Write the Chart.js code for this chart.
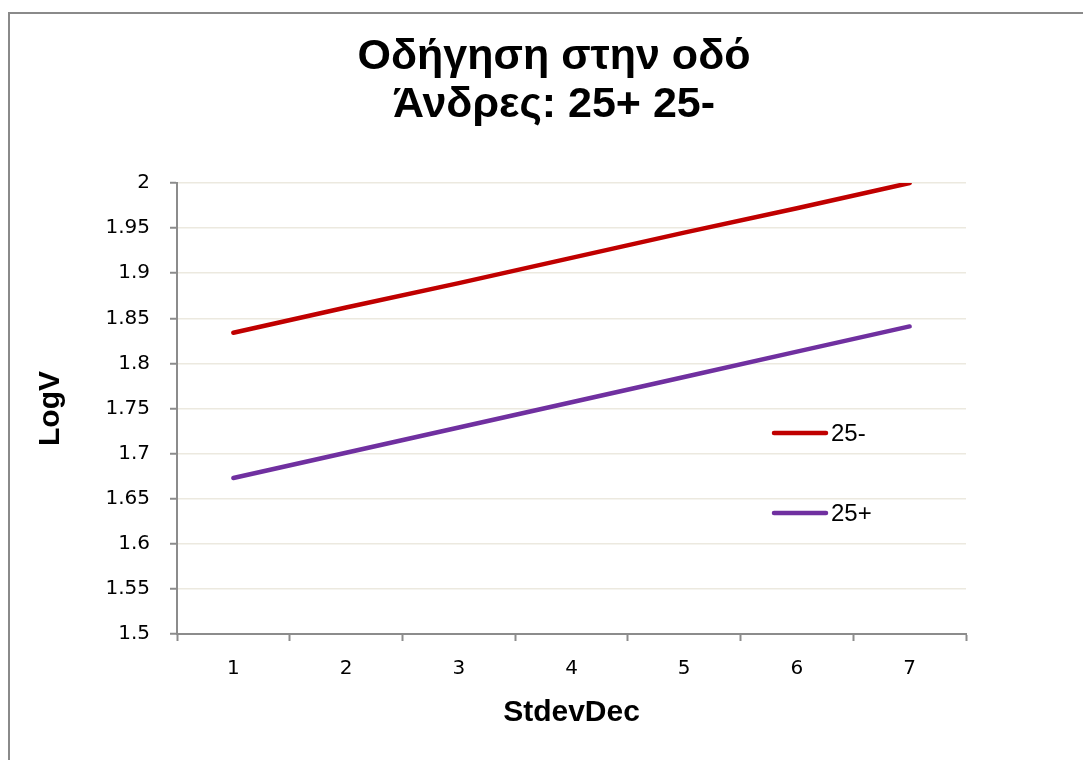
<!DOCTYPE html>
<html>
<head>
<meta charset="utf-8">
<script src="https://cdn.jsdelivr.net/npm/chart.js@4.4.1/dist/chart.umd.min.js"></script>
<style>
  html, body { margin: 0; padding: 0; background: #fff; overflow: hidden; }
  #frame { position: absolute; left: 8px; top: 12px; width: 1100px; height: 800px; border: 2px solid #8a8a8a; box-sizing: border-box; }
  #wrap { position: absolute; left: 0; top: 0; width: 1083px; height: 760px; }
</style>
</head>
<body>
<div id="frame"></div>
<div id="wrap"><canvas id="c" width="1083" height="760"></canvas></div>
<script>
const titleLines = ['Οδήγηση στην οδό', 'Άνδρες: 25+ 25-'];
const categories = ['1', '2', '3', '4', '5', '6', '7'];
const seriesNames = ['25-', '25+'];
const young = [1.834, 1.862, 1.889, 1.917, 1.945, 1.972, 2.0];
const older = [1.673, 1.701, 1.729, 1.757, 1.785, 1.813, 1.841];
const yMin = 1.5, yMax = 2.0, yStep = 0.05;
const xTitle = 'StdevDec';
const yTitle = 'LogV';

const tickFont = { family: '"DejaVu Sans", sans-serif', size: 20 };
const boldFont = (s) => ({ family: '"Liberation Sans", Arial, sans-serif', size: s, weight: 'bold' });

const insideLegend = {
  id: 'insideLegend',
  afterDatasetsDraw(chart) {
    const ctx = chart.ctx;
    const ys = [433, 513];
    ctx.save();
    chart.data.datasets.forEach((ds, i) => {
      ctx.strokeStyle = ds.borderColor;
      ctx.lineWidth = 4.5;
      ctx.lineCap = 'round';
      ctx.beginPath();
      ctx.moveTo(774, ys[i]);
      ctx.lineTo(826, ys[i]);
      ctx.stroke();
      ctx.fillStyle = '#000';
      ctx.font = '24px "Liberation Sans", Arial, sans-serif';
      ctx.textBaseline = 'middle';
      ctx.textAlign = 'left';
      ctx.fillText(ds.label, 831, ys[i] + 1);
    });
    ctx.restore();
  }
};

new Chart(document.getElementById('c'), {
  type: 'line',
  data: {
    labels: categories,
    datasets: [
      { label: seriesNames[0], data: young, borderColor: '#C00000', backgroundColor: '#C00000', borderWidth: 4.5, pointRadius: 0, borderCapStyle: 'round', tension: 0, yAxisID: 'y' },
      { label: seriesNames[1], data: older, borderColor: '#7030A0', backgroundColor: '#7030A0', borderWidth: 4.5, pointRadius: 0, borderCapStyle: 'round', tension: 0, yAxisID: 'y' }
    ]
  },
  options: {
    responsive: false,
    animation: false,
    layout: { padding: { left: 25, right: 0, top: 0, bottom: 0 } },
    plugins: {
      legend: { display: false },
      tooltip: { enabled: false },
      title: {
        display: true,
        text: titleLines,
        color: '#000',
        font: { family: '"Liberation Sans", Arial, sans-serif', size: 43, weight: 'bold', lineHeight: 48/43 },
        padding: { top: 33, bottom: 54 }
      }
    },
    scales: {
      x: {
        type: 'category',
        offset: true,
        grid: { display: true, drawOnChartArea: false, drawTicks: true, offset: true, tickLength: 7, tickColor: '#8c8c8c', tickWidth: 2 },
        border: { display: true, color: '#8c8c8c', width: 2 },
        ticks: { color: '#000', font: tickFont, padding: 16, maxRotation: 0 },
        title: { display: true, text: xTitle, color: '#000', font: boldFont(30), padding: { top: 10, bottom: 29 } },
        afterFit(scale) { scale.height = 126; }
      },
      y: {
        position: 'left',
        min: yMin, max: yMax,
        grid: { color: '#ECE9DF', lineWidth: 1.5, tickLength: 7, tickColor: '#8c8c8c', tickWidth: 2 },
        border: { display: true, color: '#8c8c8c', width: 2 },
        ticks: { stepSize: yStep, color: '#000', font: tickFont, padding: 20, callback: (v) => Number(v.toFixed(2)).toString() },
        title: { display: true, text: yTitle, color: '#000', font: boldFont(30), padding: { top: 8, bottom: 0 } },
        afterFit(scale) { scale.width = 152; }
      },
      yRightSpace: {
        type: 'linear',
        position: 'right',
        display: true,
        grid: { display: false, drawOnChartArea: false, drawTicks: false },
        border: { display: false },
        ticks: { display: false },
        afterFit(scale) { scale.width = 117; }
      }
    }
  },
  plugins: [insideLegend]
});
</script>
</body>
</html>
